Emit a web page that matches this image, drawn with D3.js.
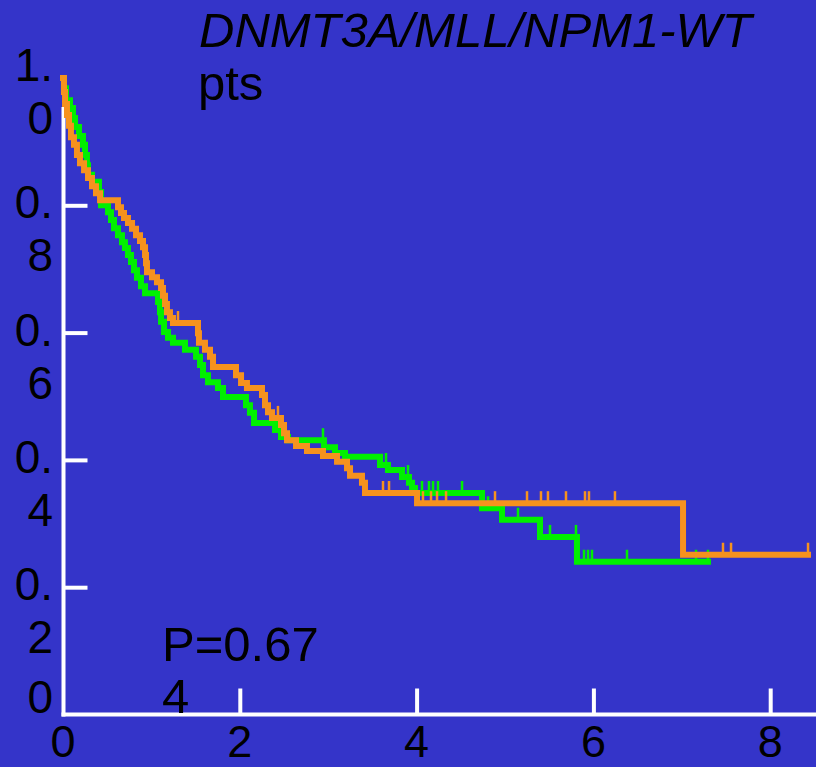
<!DOCTYPE html>
<html>
<head>
<meta charset="utf-8">
<script src="https://cdn.jsdelivr.net/npm/d3@7"></script>
<style>
  html, body { margin: 0; padding: 0; background: #3434c9; }
  svg { display: block; }
  text { font-family: "Liberation Sans", Arial, sans-serif; fill: #000; }
</style>
</head>
<body>
<svg id="chart" width="816" height="767"></svg>
<script>
// ---- data -------------------------------------------------------------
const titleLines = ["DNMT3A/MLL/NPM1-WT", "pts"];
const pValueLines = ["P=0.67", "4"];

const yTickValues = [0, 0.2, 0.4, 0.6, 0.8, 1.0];
const yTickLabels = ["0", "0.2", "0.4", "0.6", "0.8", "1.0"];
const xTickValues = [0, 2, 4, 6, 8];
const xTickLabels = ["0", "2", "4", "6", "8"];

// green group: event times (years) and survival just after each event
const greenTimes = [0.011, 0.034, 0.079, 0.113, 0.136, 0.181, 0.226, 0.249, 0.271, 0.283,
  0.328, 0.407, 0.430, 0.509, 0.543, 0.577, 0.622, 0.667, 0.701, 0.735,
  0.769, 0.803, 0.837, 0.882, 0.928, 1.075, 1.097, 1.109, 1.143, 1.188,
  1.244, 1.380, 1.505, 1.550, 1.584, 1.640, 1.753, 1.810, 2.070, 2.115,
  2.161, 2.398, 2.466, 2.545, 2.952, 3.077, 3.190, 3.586, 3.676, 3.835,
  3.914, 3.948, 3.982, 4.740, 4.966, 5.396, 5.814];
const greenSurv = [0.984, 0.965, 0.953, 0.937, 0.923, 0.909, 0.895, 0.879, 0.863, 0.848,
  0.837, 0.821, 0.800, 0.789, 0.777, 0.764, 0.753, 0.742, 0.733, 0.722,
  0.711, 0.698, 0.686, 0.673, 0.662, 0.648, 0.632, 0.617, 0.601, 0.592,
  0.584, 0.573, 0.562, 0.549, 0.533, 0.522, 0.513, 0.499, 0.486, 0.474,
  0.458, 0.447, 0.436, 0.431, 0.420, 0.411, 0.405, 0.392, 0.384, 0.373,
  0.364, 0.356, 0.348, 0.324, 0.306, 0.279, 0.240];
const greenCensored = [2.941, 3.654, 3.903, 4.061, 4.140, 4.186, 4.242, 4.514, 4.808,
  5.147, 5.509, 5.803, 5.894, 5.939, 5.984, 6.380, 7.161, 7.296];
const greenLastTime = 7.296;

// orange group
const orangeTimes = [0.011, 0.023, 0.045, 0.068, 0.090, 0.124, 0.158, 0.192, 0.238, 0.283,
  0.328, 0.373, 0.419, 0.622, 0.656, 0.690, 0.735, 0.781, 0.826, 0.871,
  0.905, 0.928, 0.939, 0.950, 1.007, 1.063, 1.109, 1.131, 1.154, 1.176,
  1.210, 1.244, 1.527, 1.538, 1.606, 1.663, 1.697, 1.957, 2.014, 2.081,
  2.251, 2.285, 2.319, 2.364, 2.466, 2.500, 2.534, 2.636, 2.760, 2.941,
  3.100, 3.213, 3.247, 3.382, 3.416, 4.005, 7.014];
const orangeSurv = [0.978, 0.959, 0.942, 0.925, 0.907, 0.895, 0.879, 0.866, 0.855, 0.843,
  0.830, 0.819, 0.808, 0.797, 0.788, 0.780, 0.772, 0.763, 0.753, 0.744,
  0.734, 0.722, 0.709, 0.695, 0.687, 0.679, 0.670, 0.658, 0.645, 0.632,
  0.623, 0.615, 0.599, 0.584, 0.573, 0.562, 0.546, 0.533, 0.521, 0.513,
  0.502, 0.486, 0.475, 0.466, 0.455, 0.442, 0.431, 0.422, 0.414, 0.406,
  0.397, 0.387, 0.375, 0.364, 0.348, 0.332, 0.251];
const orangeCensored = [1.301, 2.432, 3.620, 3.688, 4.072, 4.163, 4.231, 4.333, 4.887,
  5.249, 5.407, 5.486, 5.690, 5.905, 5.950, 6.244, 7.466, 7.557, 8.428];
const orangeLastTime = 8.428;

// ---- layout -----------------------------------------------------------
const svg = d3.select("#chart");
const W = 816, H = 767;
svg.append("rect").attr("width", W).attr("height", H).attr("fill", "#3434c9");

const x = d3.scaleLinear().domain([0, 8]).range([63, 770.2]);
const y = d3.scaleLinear().domain([0, 1]).range([714.5, 78]);

const axisColor = "#ffffff";
const axisG = svg.append("g");

// axis lines
axisG.append("line")
  .attr("x1", 63.5).attr("x2", 63.5)
  .attr("y1", 107).attr("y2", 716.5)
  .attr("stroke", axisColor).attr("stroke-width", 4);
axisG.append("line")
  .attr("x1", 61.5).attr("x2", W)
  .attr("y1", 714.5).attr("y2", 714.5)
  .attr("stroke", axisColor).attr("stroke-width", 4);

// inward tick marks
const yAxis = d3.axisLeft(y)
  .tickValues(yTickValues.filter(v => v > 0 && v < 1))
  .tickSize(-24).tickFormat("");
const yAxisG = svg.append("g").attr("transform", "translate(63.5,0)").call(yAxis);
yAxisG.select(".domain").remove();
yAxisG.selectAll(".tick line").attr("stroke", axisColor).attr("stroke-width", 4);

const xAxis = d3.axisBottom(x)
  .tickValues(xTickValues.filter(v => v > 0))
  .tickSize(-26).tickFormat("");
const xAxisG = svg.append("g").attr("transform", "translate(0,714.5)").call(xAxis);
xAxisG.select(".domain").remove();
xAxisG.selectAll(".tick line").attr("stroke", axisColor).attr("stroke-width", 4);

// y tick labels, wrapped two characters per line
const yLabelG = svg.append("g");
yTickValues.forEach((v, i) => {
  const label = yTickLabels[i];
  const lines = label.match(/.{1,2}/g);
  let base;
  if (lines.length === 1) base = y(v) - 2;
  else if (v === 1) base = y(v) + 3;
  else base = y(v) + 13;
  const t = yLabelG.append("text")
    .attr("x", 53).attr("y", base)
    .attr("text-anchor", "end")
    .attr("font-size", 46);
  lines.forEach((ln, k) => {
    t.append("tspan").attr("x", 53).attr("dy", k === 0 ? 0 : 53).text(ln);
  });
});

// x tick labels
svg.append("g").selectAll("text")
  .data(xTickValues)
  .join("text")
  .attr("x", d => x(d))
  .attr("y", 757)
  .attr("text-anchor", "middle")
  .attr("font-size", 45)
  .text((d, i) => xTickLabels[i]);

// ---- survival curves ----------------------------------------------------
function stepPoints(times, surv, lastTime) {
  const pts = [[0, 1]];
  times.forEach((t, i) => pts.push([t, surv[i]]));
  pts.push([lastTime, surv[surv.length - 1]]);
  return pts;
}
function survAt(times, surv, t) {
  let s = 1;
  for (let i = 0; i < times.length; i++) {
    if (times[i] <= t) s = surv[i]; else break;
  }
  return s;
}

const line = d3.line()
  .x(d => x(d[0]))
  .y(d => y(d[1]))
  .curve(d3.curveStepAfter);

const groups = [
  { color: "#00f000", times: greenTimes, surv: greenSurv, cens: greenCensored, last: greenLastTime },
  { color: "#f6921e", times: orangeTimes, surv: orangeSurv, cens: orangeCensored, last: orangeLastTime }
];

groups.forEach(g => {
  const gg = svg.append("g");
  gg.append("path")
    .datum(stepPoints(g.times, g.surv, g.last))
    .attr("d", line)
    .attr("fill", "none")
    .attr("stroke", g.color)
    .attr("stroke-width", 6)
    .attr("stroke-linejoin", "miter")
    .attr("stroke-linecap", "square");
  gg.selectAll("line.cens")
    .data(g.cens)
    .join("line")
    .attr("class", "cens")
    .attr("x1", d => x(d)).attr("x2", d => x(d))
    .attr("y1", d => y(survAt(g.times, g.surv, d)))
    .attr("y2", d => y(survAt(g.times, g.surv, d)) - 12)
    .attr("stroke", g.color)
    .attr("stroke-width", 2.5);
});

// ---- annotations --------------------------------------------------------
svg.append("text")
  .attr("x", 199).attr("y", 47)
  .attr("font-size", 49).attr("font-style", "italic")
  .text(titleLines[0]);
svg.append("text")
  .attr("x", 198).attr("y", 100)
  .attr("font-size", 49)
  .text(titleLines[1]);

const pText = svg.append("text").attr("x", 162).attr("y", 661).attr("font-size", 49);
pValueLines.forEach((ln, k) => {
  pText.append("tspan").attr("x", 162).attr("dy", k === 0 ? 0 : 52).text(ln);
});
</script>
</body>
</html>
